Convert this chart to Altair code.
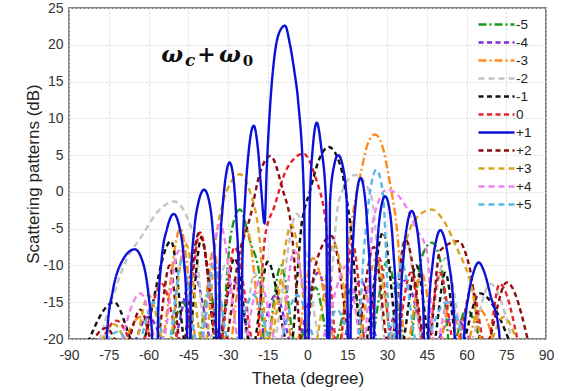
import altair as alt
import pandas as pd

N = -21.5  # depth used for nulls (below the axis, clipped)

series_order = ["-5", "-4", "-3", "-2", "-1", "0", "+1", "+2", "+3", "+4", "+5"]
series_colors = ["#1a9a1a", "#7a2be0", "#ff8c1a", "#c4c4c4", "#111111", "#e8202a",
                 "#0a10d8", "#8b0d0d", "#d9a520", "#ee82ee", "#5bb8e6"]
series_dash = [[8, 3, 2, 3], [5, 3.5], [8, 3, 2, 3], [6, 4], [5, 3.5], [5, 3.5],
               [1, 0], [5, 3.5], [6, 4], [6, 4], [6, 4]]
series_width = [2.4, 2.4, 2.4, 2.4, 2.4, 2.4, 3.0, 2.4, 2.4, 2.4, 2.4]

x_ticks = [-90, -75, -60, -45, -30, -15, 0, 15, 30, 45, 60, 75, 90]
y_ticks = [-20, -15, -10, -5, 0, 5, 10, 15, 20, 25]

# -5
m5_theta = [-52, -47, -42, -37, -33, -29, -25.5, -21.7, -18, -16, -10, -4, 3, 9, 17, 23, 30, 38, 43, 46.9, 50.5, 54, 60, 66]
m5_db = [N, -15, N, -13, N, -6, -2.4, -6.7, -11.6, N, -10, N, -13, N, -13, N, -9.5, N, -9, -6.9, -10, N, -16, N]
# -4
m4_theta = [-66, -60, -52, -43, -35, -28, -20, -12, -5, 4, 12, 20, 28, 37, 46, 55, 63]
m4_db = [N, -17, N, -11, N, -12, N, -14, N, -11, N, -12, N, -12, N, -17, N]
# -3
m3_theta = [-70, -63, -56, -48, -41, -35.5, -30, -23, -16, -10, -5, 2, 12, 16, 20.5, 23, 25.5, 28, 31, 34, 37, 43, 49, 54, 59, 65, 71]
m3_db = [N, -17, N, -5, N, -8, N, -5, N, -12, N, -9, N, -6, 3.2, 6.8, 7.8, 6.5, 1.4, -6, N, -11, N, -15, N, -16, N]
# -2
m2_theta = [-79.5, -75, -68, -62.9, -56, -50.4, -46, -42, -38, -31, -25, -20, -14, -4, 6, 12, 18, 24, 30, 37, 44, 52, 60, 69, 78]
m2_db = [N, -16, -9, -6.2, -2.5, -1.3, -3, -8, N, -10, N, -11, N, -3, N, -1, 2.3, -0.5, N, -6, N, -9, N, -12.5, N]
# -1
m1_theta = [-84, -73, -64, -51.5, -45.5, -40, -34, -27.5, -21, -15, -6.5, -2.2, 0.9, 4.5, 8, 12.3, 16, 21, 28.5, 35, 41, 47, 52, 57, 65, 77.5]
m1_db = [N, -15, N, -6.7, N, -6.2, N, -9, N, -9.5, N, -4.4, 0.1, 4.5, 6.1, 3.7, -4, N, -5.5, N, -10, N, -11, N, -13.8, N]
# 0
z0_theta = [-79, -72, -64, -55, -47, -40.5, -33.5, -27.5, -19.5, -16, -12.5, -8, -1.5, 3, 6.5, 11.5, 17, 22.5, 27, 32.5, 39, 44.5, 50, 56, 62, 67.5, 72.5, 80]
z0_db = [N, -17.5, N, -12.5, N, -5.5, N, -7.5, N, -6, -2, 3, 5.2, 2, -3, N, -7, N, -9, N, -11, N, -11, N, -13, N, -12.5, N]
# +1
p1_theta = [-77, -75.6, -73.5, -70.5, -65.2, -61.8, -60, -58.6, -57.6,
            -57.3, -56.3, -55, -53, -50.5, -48.2, -46.7, -45.6, -44.9,
            -44.7, -44, -42.7, -41.2, -39, -37, -35.8, -34.7, -34.1,
            -33.9, -33, -32, -30.8, -29.4, -28, -26.8, -25.9, -25.3,
            -25.1, -24.6, -23.6, -22.2, -20.3, -18.6, -17.4, -16.2,
            -15.4, -14.4, -12.3, -10.5, -8.5, -6.6, -5, -3.5, -1.3, -0.3,
            -0.1, 0.9, 2.0, 3.5, 5.2, 7.0, 7.9,
            8.1, 8.5, 10, 11.6, 13.3, 14.8, 15.6,
            15.8, 16.4, 17.3, 18.5, 20, 21.6, 22.8, 23.8, 24.5,
            24.6, 25.2, 26.2, 27.6, 29.3, 31, 32.4, 33.5, 34.3,
            34.4, 35.0, 36.3, 37.7, 39.3, 41, 42.4, 43.8, 44.6,
            44.9, 45.7, 47.3, 48.6, 50.1, 51.8, 53.3, 55.3, 56.6,
            58.2, 59.2, 60.8, 62.6, 64.6, 66.8, 69, 72.3, 73.8]
p1_db = [-40, -19, -13.5, -9.8, -7.8, -10, -14, -20, -40,
         -40, -16, -9, -5, -3, -5, -9, -16, -40,
         -40, -12, -5, -1.5, 0.3, -1.5, -5, -12, -40,
         -40, -8, -2, 2.2, 4.0, 2, -4, -12, -40,
         -40, -10, -1.3, 5.5, 9.0, 5.5, 0, -4.3,
         3, 10, 18.9, 21.8, 22.6, 20.0, 16.5, 12.2, -1.3, -40,
         -40, -1.3, 6, 9.4, 6, -1.3, -40,
         -40, -1.3, 3.5, 5.0, 3.5, -1.3, -40,
         -40, -14, -6, -0.5, 1.9, -0.5, -6, -14, -40,
         -40, -16, -8, -2.5, -0.6, -2.5, -8, -16, -40,
         -40, -17, -8.5, -4.3, -2.6, -4.3, -8.5, -17, -40,
         -40, -17, -9.5, -6.5, -5.2, -6.5, -9.5, -17, -40,
         -40, -19, -14, -11, -9.6, -11, -14, -19, -40]
# +2
p2_theta = [-83, -76, -69.5, -63, -57.5, -52, -47.5, -41, -32, -25.5, -21.7, -18, -14, -9.2, -6.6, -1.5, 3, 9, 17.5, 25, 31, 37, 45.5, 50, 57, 61, 66.5, 75.2, 84]
p2_db = [N, -18.5, N, -16, N, -10, N, -5.6, N, -8, -3.5, 2.5, 4.9, 0.1, -3.5, N, -10, -6, N, -7.5, N, -6.5, N, -8, -6.7, -10, N, -12.3, N]
# +3
p3_theta = [-79, -73, -66, -60, -53, -46, -39, -34.3, -30.5, -25.5, -21.7, -18, -15, -6, 2, 10, 18, 26, 33, 36.5, 41.2, 46.9, 51.5, 56.3, 61.3, 67, 74, 80]
p3_db = [N, -18, N, -14, N, -7, N, -5.7, 0.1, 2.4, 0, -6.7, N, -4.5, N, -7, N, -9, N, -8, -3.5, -2.4, -4, -7.6, -12, N, -17, N]
# +4
p4_theta = [-71, -63, -55.5, -48.5, -41, -33, -25, -18, -11, -5, 3, 15, 21, 25, 30, 36, 41, 45, 48, 53, 60]
p4_db = [N, -13.8, N, -8, N, -4.4, N, -12, N, -8, N, -10, N, -3.5, 0.3, -1.3, -5, -8, N, -15, N]
# +5
p5_theta = [-78, -71.5, -65, -58, -53, -47.4, -41, -35.5, -29, -20.5, -12, -4, 5, 11, 18.5, 21.5, 23.6, 26, 28.5, 31.5, 35.5, 42, 52.5, 60]
p5_db = [N, -19, N, -15, N, -9.4, N, -10, N, -14, N, -14, N, -16, N, -7, 0, 3.0, -0.3, N, -9.6, N, -15, N]

all_series = [("-5", m5_theta, m5_db), ("-4", m4_theta, m4_db), ("-3", m3_theta, m3_db),
              ("-2", m2_theta, m2_db), ("-1", m1_theta, m1_db), ("0", z0_theta, z0_db),
              ("+1", p1_theta, p1_db), ("+2", p2_theta, p2_db), ("+3", p3_theta, p3_db),
              ("+4", p4_theta, p4_db), ("+5", p5_theta, p5_db)]

rows = []
for name, th, db in all_series:
    for i, (t, d) in enumerate(zip(th, db)):
        rows.append({"theta": t, "db": d, "series": name, "i": i})
df = pd.DataFrame(rows)

leg = alt.Legend(title=None, orient="none", legendX=417, legendY=6, padding=0,
                 symbolType="M-2,0H2", symbolSize=324, labelOffset=9, rowPadding=1.0,
                 labelFont="Liberation Sans", labelFontSize=13.5, labelColor="#222",
                 labelLimit=60)

x_scale = alt.Scale(domain=[-90, 90], nice=False, zero=False)
y_scale = alt.Scale(domain=[-20, 25], nice=False, zero=False)

x_axis = alt.Axis(values=x_ticks, title="Theta (degree)", labelPadding=9,
                  titlePadding=8, labelExpr="'' + datum.value",
                  labelOverlap=False, labelFlush=False, labelBound=False, labelSeparation=0)
y_axis = alt.Axis(values=y_ticks, title="Scattering patterns (dB)", labelPadding=6,
                  titlePadding=0, labelExpr="'' + datum.value",
                  labelOverlap=False, labelFlush=False, labelBound=False, labelSeparation=0)

x_enc = alt.X("theta:Q", scale=x_scale, axis=x_axis)
y_enc = alt.Y("db:Q", scale=y_scale, axis=y_axis)
color_enc = alt.Color("series:N", scale=alt.Scale(domain=series_order, range=series_colors), legend=leg)
dash_enc = alt.StrokeDash("series:N", scale=alt.Scale(domain=series_order, range=series_dash), legend=leg)
width_enc = alt.StrokeWidth("series:N", scale=alt.Scale(domain=series_order, range=series_width), legend=leg)

base = alt.Chart(df).mark_line(clip=True, interpolate="monotone").encode(
    x=x_enc, y=y_enc, color=color_enc, strokeDash=dash_enc, strokeWidth=width_enc,
    detail="series:N", order="i:Q")

dashed = base.transform_filter(alt.datum.series != "+1")
solid = base.transform_filter(alt.datum.series == "+1")

ann_font = "DejaVu Serif"
ann = [
    ("ω", -55.2, 17.6, 23, "italic"),
    ("c", -46.2, 17.1, 17, "italic"),
    ("+", -38.1, 17.6, 22, "normal"),
    ("ω", -33.4, 17.6, 23, "italic"),
    ("0", -24.4, 17.1, 15, "normal"),
]
texts = []
for t, th, dbv, fs, sty in ann:
    align = "center" if t == "+" else "left"
    texts.append(
        alt.Chart(pd.DataFrame({"theta": [th], "db": [dbv], "t": [t]})).mark_text(
            font=ann_font, fontSize=fs, fontWeight="bold", fontStyle=sty, align=align,
            baseline="alphabetic", color="#111").encode(
            x=x_enc, y=y_enc, text="t:N"))

chart = alt.layer(dashed, solid, *texts).properties(
    width=477, height=331,
    autosize=alt.AutoSizeParams(type="none"),
    padding={"left": 69, "top": 8, "right": 23, "bottom": 52},
).configure_view(stroke="#595959", strokeWidth=1.5).configure_axis(
    grid=True, gridColor="#d9d9d9", gridDash=[2, 2], gridWidth=1,
    domain=False, ticks=False, labelOverlap=False, labelFlush=False,
    labelFont="Liberation Sans", labelFontSize=14, labelColor="#333",
    titleFont="Liberation Sans", titleFontSize=17, titleColor="#222", titleFontWeight="normal",
).configure_axisX(labelOverlap=False).configure_axisY(labelOverlap=False)

chart.save("out.html", embed_options={"renderer": "svg", "actions": False})
